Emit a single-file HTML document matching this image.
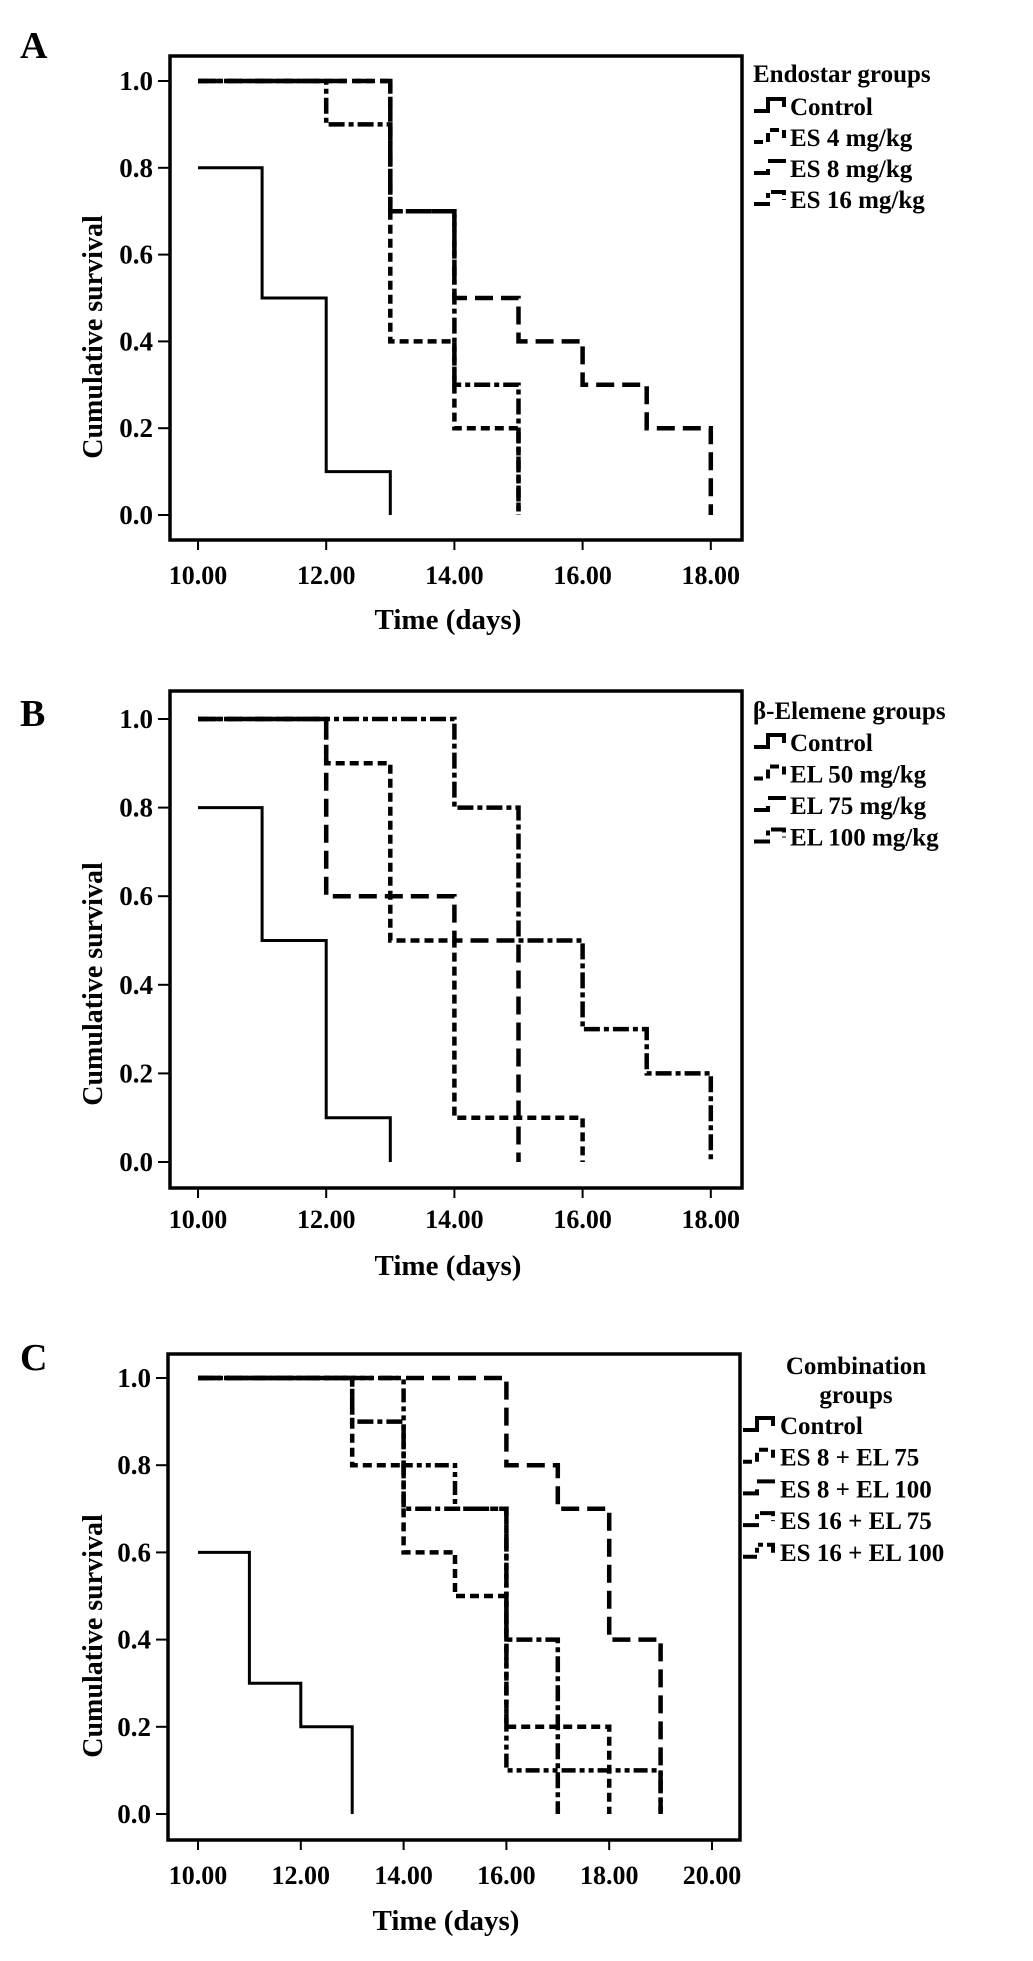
<!DOCTYPE html>
<html><head><meta charset="utf-8"><style>
html,body{margin:0;padding:0;background:#fff;}
svg{display:block;}
text{font-family:"Liberation Serif",serif;font-weight:bold;fill:#000;}
</style></head><body>
<svg id="fig" width="1033" height="1961" viewBox="0 0 1033 1961" xmlns="http://www.w3.org/2000/svg"></svg>
<script>
// ---- data ----
const yTicks = [0.0, 0.2, 0.4, 0.6, 0.8, 1.0];
const yTickLabels = ["0.0","0.2","0.4","0.6","0.8","1.0"];
const xTicksAB = [10, 12, 14, 16, 18];
const xTickLabelsAB = ["10.00","12.00","14.00","16.00","18.00"];
const xTicksC = [10, 12, 14, 16, 18, 20];
const xTickLabelsC = ["10.00","12.00","14.00","16.00","18.00","20.00"];

// Panel A
const aNames = ["Control","ES 4 mg/kg","ES 8 mg/kg","ES 16 mg/kg"];
const aStart = [0.8, 1.0, 1.0, 1.0];
const aControlT = [11,12,13];     const aControlS = [0.5,0.1,0];
const aEs4T = [13,14,15];         const aEs4S = [0.4,0.2,0];
const aEs8T = [13,14,15,16,17,18];const aEs8S = [0.7,0.5,0.4,0.3,0.2,0];
const aEs16T = [12,13,14,15];     const aEs16S = [0.9,0.7,0.3,0];

// Panel B
const bNames = ["Control","EL 50 mg/kg","EL 75 mg/kg","EL 100 mg/kg"];
const bStart = [0.8, 1.0, 1.0, 1.0];
const bControlT = [11,12,13];     const bControlS = [0.5,0.1,0];
const bEl50T = [12,13,14,16];     const bEl50S = [0.9,0.5,0.1,0];
const bEl75T = [12,14,15];        const bEl75S = [0.6,0.5,0];
const bEl100T = [14,15,16,17,18]; const bEl100S = [0.8,0.5,0.3,0.2,0];

// Panel C
const cNames = ["Control","ES 8 + EL 75","ES 8 + EL 100","ES 16 + EL 75","ES 16 + EL 100"];
const cStart = [0.6, 1.0, 1.0, 1.0, 1.0];
const cControlT = [11,12,13];     const cControlS = [0.3,0.2,0];
const cA_T = [13,14,15,16,18];    const cA_S = [0.8,0.6,0.5,0.2,0];
const cB_T = [16,17,18,19];       const cB_S = [0.8,0.7,0.4,0];
const cC_T = [13,14,16,17];       const cC_S = [0.9,0.7,0.4,0];
const cD_T = [14,15,16,19];       const cD_S = [0.8,0.7,0.1,0];

const dashes = ["", "9,5", "18,8", "16,4,5,4", "14,4,5,4,5,4"];
const NS = "http://www.w3.org/2000/svg";
const svg = document.getElementById("fig");

function mk(tag, attrs, parent){
  const e = document.createElementNS(NS, tag);
  for (const k in attrs) e.setAttribute(k, attrs[k]);
  (parent||svg).appendChild(e);
  return e;
}

function panel(cfg){
  const g = mk("g", {});
  
  
  const xs = v => cfg.x10 + (v - 10) * cfg.dx;
  const ys = v => cfg.y0 - v * (cfg.y0 - cfg.y1);

  const lt = mk("text", {x: cfg.letterX, y: cfg.letterY, "font-size": 38}, g);
  lt.textContent = cfg.id.toUpperCase();
  
  

  const box = mk("rect", {x: cfg.bx0, y: cfg.by0, width: cfg.bx1 - cfg.bx0, height: cfg.by1 - cfg.by0, fill: "none", stroke: "#000", "stroke-width": 3.5}, g);
  
  

  yTicks.forEach((v, i) => {
    const t = mk("line", {x1: cfg.bx0 - 12, x2: cfg.bx0, y1: ys(v), y2: ys(v), stroke: "#000", "stroke-width": 2}, g);
    
    
    const l = mk("text", {x: cfg.bx0 - 17, y: ys(v) + 9, "font-size": 27, "text-anchor": "end"}, g);
    l.textContent = yTickLabels[i];
    
    
  });
  cfg.xTicks.forEach((v, i) => {
    const t = mk("line", {x1: xs(v), x2: xs(v), y1: cfg.by1, y2: cfg.by1 + 10, stroke: "#000", "stroke-width": 2}, g);
    
    
    const l = mk("text", {x: xs(v), y: cfg.xLabelY + 9, "font-size": 26, "text-anchor": "middle"}, g);
    l.textContent = cfg.xTickLabels[i];
    
    
  });
  const xt = mk("text", {x: (cfg.bx0 + cfg.bx1) / 2 - 8, y: cfg.xTitleY + 10, "font-size": 29, "text-anchor": "middle"}, g);
  xt.textContent = "Time (days)";
  
  
  const yc = cfg.y0 - 178;
  const yt = mk("text", {x: 0, y: 0, "font-size": 28, "text-anchor": "middle", transform: "translate(102," + yc + ") rotate(-90)"}, g);
  yt.textContent = "Cumulative survival";
  
  

  cfg.series.forEach((s, i) => {
    let d = "M" + xs(10) + " " + ys(cfg.start[i]);
    s.t.forEach((tv, j) => { d += " H" + xs(tv) + " V" + ys(s.s[j]); });
    const p = mk("path", {d: d, fill: "none", stroke: "#000", "stroke-width": i === 0 ? 3 : 4.5, "stroke-dasharray": dashes[i]}, g);
    
    
  });

  // legend
  const lg = mk("g", {}, g);
  
  
  cfg.legendTitle.forEach((tx, k) => {
    const t = mk("text", {x: cfg.legTitleX, y: cfg.legTitleY + k * 29, "font-size": 25, "text-anchor": cfg.legTitleAnchor}, lg);
    t.textContent = tx;
    
    
  });
  cfg.names.forEach((n, i) => {
    const by = cfg.legY0 + i * cfg.legDy;
    const ix = cfg.legIconX;
    const ic = mk("path", {d: "M" + ix + " " + (by - 4) + " H" + (ix + 14) + " V" + (by - 16) + " H" + (ix + 30) + " V" + (by - 8), fill: "none", stroke: "#000", "stroke-width": 4, "stroke-dasharray": dashes[i]}, lg);
    
    
    const t = mk("text", {x: cfg.legTextX, y: by, "font-size": 25}, lg);
    t.textContent = n;
    
    
  });
}

panel({id: "a", letterX: 20, letterY: 58, bx0: 170, by0: 56, bx1: 742, by1: 540,
  x10: 198, dx: 64.1, y0: 515, y1: 81, xTicks: xTicksAB, xTickLabels: xTickLabelsAB,
  xLabelY: 575, xTitleY: 619, start: aStart, names: aNames,
  series: [{t: aControlT, s: aControlS}, {t: aEs4T, s: aEs4S}, {t: aEs8T, s: aEs8S}, {t: aEs16T, s: aEs16S}],
  legendTitle: ["Endostar groups"], legTitleX: 753, legTitleY: 82, legTitleAnchor: "start",
  legY0: 115, legDy: 31, legIconX: 754, legTextX: 790});

panel({id: "b", letterX: 20, letterY: 726, bx0: 170, by0: 691, bx1: 742, by1: 1188,
  x10: 198, dx: 64.1, y0: 1162, y1: 719, xTicks: xTicksAB, xTickLabels: xTickLabelsAB,
  xLabelY: 1219, xTitleY: 1265, start: bStart, names: bNames,
  series: [{t: bControlT, s: bControlS}, {t: bEl50T, s: bEl50S}, {t: bEl75T, s: bEl75S}, {t: bEl100T, s: bEl100S}],
  legendTitle: ["β-Elemene groups"], legTitleX: 753, legTitleY: 719, legTitleAnchor: "start",
  legY0: 751, legDy: 31.5, legIconX: 754, legTextX: 790});

panel({id: "c", letterX: 20, letterY: 1370, bx0: 168, by0: 1354, bx1: 740, by1: 1840,
  x10: 198, dx: 51.4, y0: 1814, y1: 1378, xTicks: xTicksC, xTickLabels: xTickLabelsC,
  xLabelY: 1875, xTitleY: 1920, start: cStart, names: cNames,
  series: [{t: cControlT, s: cControlS}, {t: cA_T, s: cA_S}, {t: cB_T, s: cB_S}, {t: cC_T, s: cC_S}, {t: cD_T, s: cD_S}],
  legendTitle: ["Combination", "groups"], legTitleX: 856, legTitleY: 1374, legTitleAnchor: "middle",
  legY0: 1434, legDy: 31.7, legIconX: 743, legTextX: 780});
</script>
</body></html>
